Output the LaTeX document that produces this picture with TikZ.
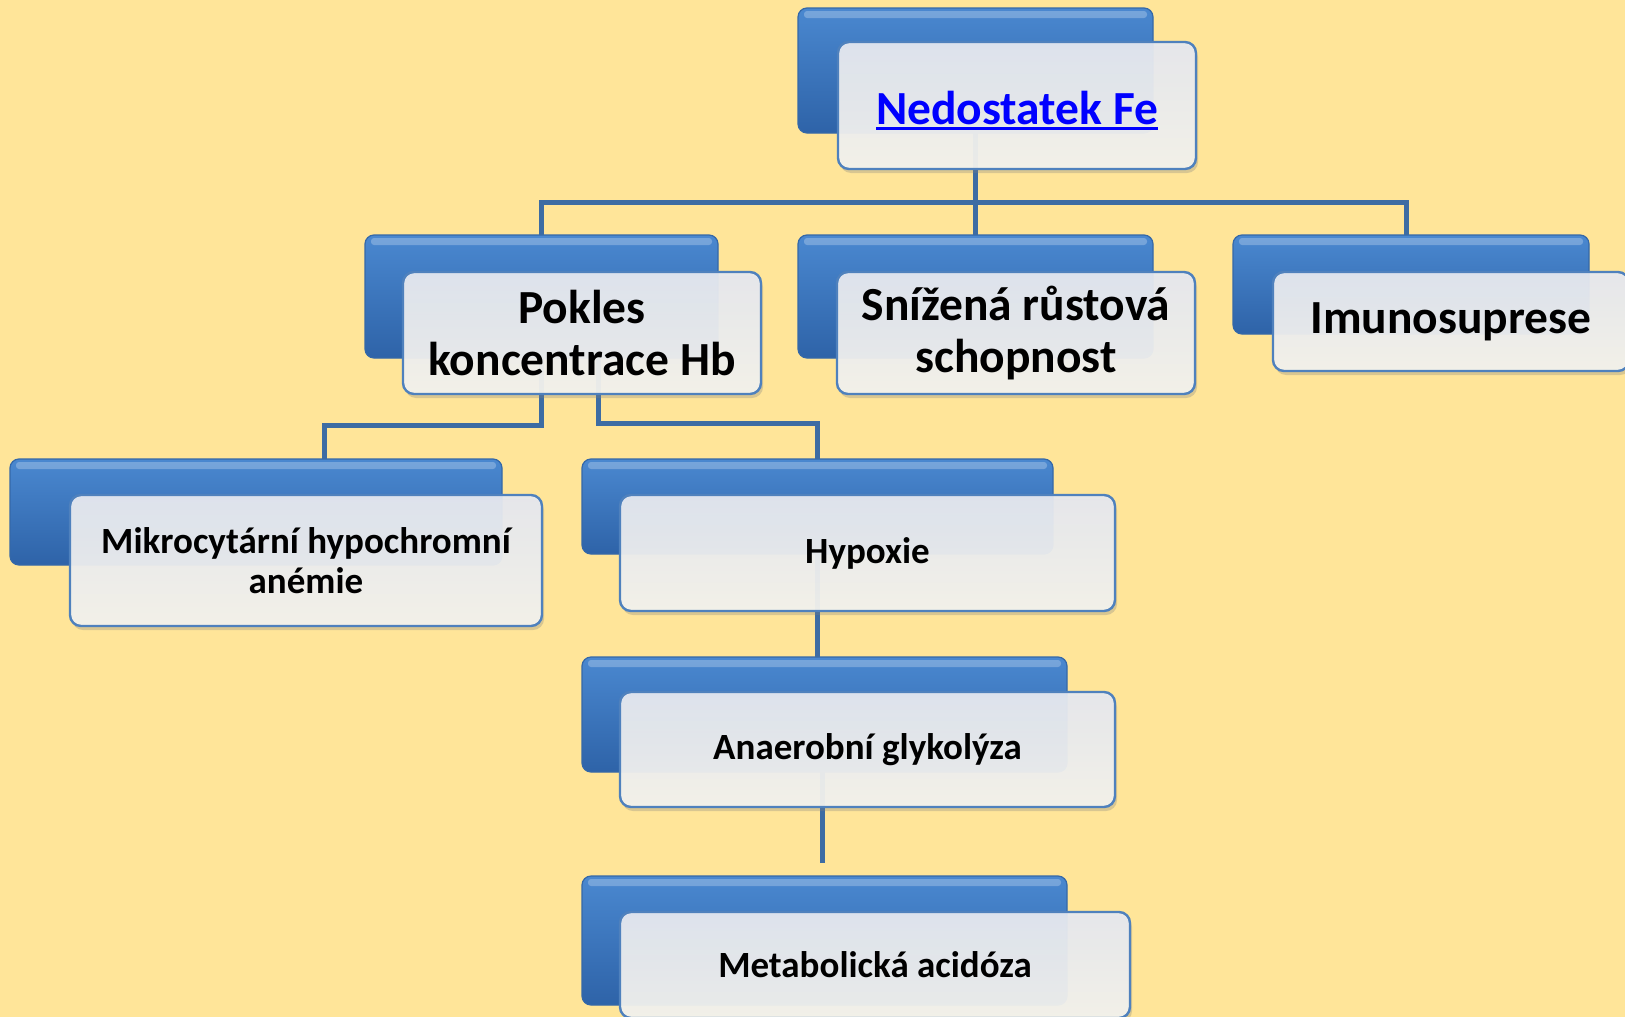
\documentclass[tikz,border=0pt]{standalone}
\usepackage{fontspec}
\setmainfont{Carlito}
\usetikzlibrary{shadows,calc}
\definecolor{bg}{HTML}{FFE599}
\definecolor{blueTop}{HTML}{4A88D0}
\definecolor{blueMid}{HTML}{3C79C3}
\definecolor{blueBot}{HTML}{2E63A8}
\definecolor{backedge}{HTML}{3568A8}
\definecolor{frontTop}{HTML}{E6E9F0}
\definecolor{frontBot}{HTML}{F4F3EE}
\definecolor{frontedge}{HTML}{4F81BD}
\definecolor{connc}{HTML}{3D6CA3}
\definecolor{linkblue}{HTML}{0000FF}
\begin{document}
\begin{tikzpicture}[x=1pt,y=-1pt,
  backbox/.style n args={2}{draw=backedge, line width=1.2pt, rounded corners=9pt,
    top color=blueTop, middle color=blueMid, bottom color=blueBot,
    minimum width=#1, minimum height=#2, inner sep=0pt, outer sep=0pt, anchor=north west,
    path picture={\fill[white,opacity=.25,rounded corners=3pt]
      ([xshift=6pt,yshift=-3pt]path picture bounding box.north west) rectangle
      ([xshift=-6pt,yshift=-10pt]path picture bounding box.north east);}},
  frontbox/.style n args={2}{draw=frontedge, line width=2.4pt, rounded corners=11pt,
    top color=frontTop, bottom color=frontBot, fill opacity=0.94, text opacity=1,
    drop shadow={opacity=0.3, shadow xshift=2pt, shadow yshift=-4pt},
    minimum width=#1, minimum height=#2, inner sep=0pt, outer sep=0pt, anchor=north west,
    align=center, text=black},
  bigtxt/.style={font=\fontsize{47.5}{52}\selectfont\bfseries},
  smalltxt/.style={font=\fontsize{37}{40}\selectfont\bfseries},
  conn/.style={draw=connc, line width=5pt}
]
\fill[bg] (0,0) rectangle (1625,1017);
\useasboundingbox (0,0) rectangle (1625,1017);
\clip (0,0) rectangle (1625,1017);

% back boxes
\node[backbox={355pt}{125pt}] (topb) at (798,8) {};
\node[backbox={353pt}{123pt}] (pokb) at (365,235) {};
\node[backbox={355pt}{123pt}] (snib) at (798,235) {};
\node[backbox={356pt}{99pt}]  (imub) at (1233,235) {};
\node[backbox={492pt}{106pt}] (mikb) at (10,459) {};
\node[backbox={471pt}{95pt}]  (hypb) at (582,459) {};
\node[backbox={485pt}{115pt}] (anab) at (582,657) {};
\node[backbox={485pt}{129pt}] (metb) at (582,876) {};

% connectors
\draw[conn] (topb.south) -- ++(0,69) -| (pokb.north);
\draw[conn] (topb.south) -- ++(0,69) -| ([xshift=-5pt]imub.north);
\draw[conn] (topb.south) -- (snib.north);
\draw[conn] (pokb.south) -- ++(0,67) -| ([xshift=314pt]mikb.north west);
\draw[conn] ([xshift=57pt]pokb.south) -- ++(0,65) -| (hypb.north);
\draw[conn] (hypb.south) -- (hypb.south |- anab.north);
\coordinate (metend) at ([xshift=-2pt,yshift=13pt]metb.north);
\draw[conn] ([xshift=-2pt]anab.south) -- (metend);

% front boxes
\node[frontbox={358pt}{127pt}, bigtxt] (topf) at (838,42)
  {\raisebox{-5pt}[\height][\depth]{\textcolor{linkblue}{\setbox0\hbox{Nedostatek Fe}\rlap{\rule[-6pt]{\wd0}{3pt}}\box0}}};
\node[frontbox={358pt}{122pt}, bigtxt] (pokf) at (403,272) {Pokles\\koncentrace Hb};
\node[frontbox={358pt}{122pt}, bigtxt] (snif) at (837,272) {Snížená růstová\\schopnost};
\node[frontbox={356pt}{99pt}, bigtxt]  (imuf) at (1273,272) {Imunosuprese};
\node[frontbox={472pt}{131pt}, smalltxt] (mikf) at (70,495) {Mikrocytární hypochromní\\anémie};
\node[frontbox={495pt}{116pt}, smalltxt] (hypf) at (620,495) {Hypoxie};
\node[frontbox={495pt}{115pt}, smalltxt] (anaf) at (620,692) {Anaerobní glykolýza};
\node[frontbox={510pt}{106pt}, smalltxt] (metf) at (620,912) {Metabolická acidóza};
\end{tikzpicture}
\end{document}
